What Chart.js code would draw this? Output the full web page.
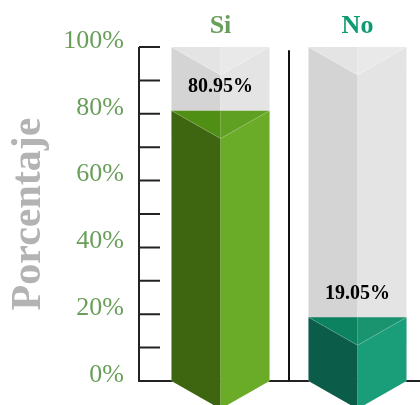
<!DOCTYPE html>
<html lang="es">
<head>
<meta charset="UTF-8">
<title>Porcentaje Si / No</title>
<script src="https://cdn.jsdelivr.net/npm/chart.js"></script>
<style>
  html, body { margin: 0; padding: 0; background: #ffffff; overflow: hidden; }
  /* a few px wider than the window: the right bar runs to the edge */
  #wrap { width: 426px; height: 405px; }
</style>
</head>
<body>
<div id="wrap"><canvas id="chart"></canvas></div>
<script>
  // Data
  const categories = ['Si', 'No'];
  const percentValues = [80.95, 19.05];
  const fullValues = [100, 100];
  const yTickLabels = ['0%', '20%', '40%', '60%', '80%', '100%'];

  const SERIF = "'Liberation Serif', 'Times New Roman', serif";
  const categoryColors = ['#6a9f5b', '#0e9a72'];
  const faceColors = [
    { left: '#3e6610', right: '#6aab27', topLeft: '#4f8f13', topRight: '#5fa022' },
    { left: '#0b5c48', right: '#1a9e7a', topLeft: '#0c8261', topRight: '#1a936f' }
  ];
  const greyFace = { left: '#d4d4d4', right: '#e4e4e4', topLeft: '#e4e4e4', topRight: '#e9e9e9' };
  const AXIS_GAP = 13;   // axis line sits a bit left of the plot area
  const TICK_LEN = 21;

  function poly(ctx, pts, color) {
    ctx.beginPath();
    ctx.moveTo(pts[0][0], pts[0][1]);
    for (let i = 1; i < pts.length; i++) ctx.lineTo(pts[i][0], pts[i][1]);
    ctx.closePath();
    ctx.fillStyle = color;
    ctx.fill();
  }

  // 3D prism: two side faces, a chevron top and a pointed bottom
  function drawPrism(ctx, el, c) {
    const half = el.width / 2, d = half * 0.57;
    const l = el.x - half, r = el.x + half, m = el.x, t = el.y, b = el.base;
    poly(ctx, [[l, t], [m, t + d], [m, b + d], [l, b]], c.left);
    poly(ctx, [[m, t + d], [r, t], [r, b], [m, b + d]], c.right);
    poly(ctx, [[l, t], [m, t], [m, t + d]], c.topLeft);
    poly(ctx, [[m, t], [r, t], [m, t + d]], c.topRight);
    ctx.strokeStyle = 'rgba(255,255,255,0.18)';
    ctx.lineWidth = 1;
    ctx.beginPath();
    ctx.moveTo(l, t); ctx.lineTo(m, t + d); ctx.lineTo(r, t);
    ctx.stroke();
  }

  const prismPlugin = {
    id: 'prism',
    beforeDatasetsDraw(chart) {
      const ctx = chart.ctx, ys = chart.scales.y;
      const axisX = ys.right - AXIS_GAP;
      const y0 = ys.getPixelForValue(0);
      ctx.save();
      ctx.strokeStyle = '#222222';
      ctx.lineWidth = 2;
      ctx.beginPath();
      ctx.moveTo(axisX, ys.top); ctx.lineTo(axisX, y0);
      ctx.moveTo(axisX - 1, y0); ctx.lineTo(chart.width, y0);
      ys.ticks.forEach((t, i) => {
        const py = ys.getPixelForTick(i);
        ctx.moveTo(axisX, py); ctx.lineTo(axisX + TICK_LEN, py);
      });
      ctx.stroke();
      ctx.restore();
    },
    afterDatasetsDraw(chart) {
      const ctx = chart.ctx, ys = chart.scales.y;
      const bars = chart.getDatasetMeta(0).data;
      const backs = chart.getDatasetMeta(1).data;
      ctx.save();
      backs.forEach(el => drawPrism(ctx, el, greyFace));
      bars.forEach((el, i) => drawPrism(ctx, el, faceColors[i]));

      // divider between the two categories
      const midX = (bars[0].x + bars[1].x) / 2;
      ctx.strokeStyle = '#111111';
      ctx.lineWidth = 2;
      ctx.beginPath();
      ctx.moveTo(midX, ys.getPixelForValue(99));
      ctx.lineTo(midX, ys.getPixelForValue(0));
      ctx.stroke();

      ctx.fillStyle = '#000000';
      ctx.font = 'bold 20px ' + SERIF;
      ctx.textAlign = 'center';
      ctx.textBaseline = 'middle';
      bars.forEach((el, i) => {
        ctx.fillText(percentValues[i].toFixed(2) + '%', el.x, el.y - 24);
      });
      ctx.restore();
    }
  };

  new Chart(document.getElementById('chart'), {
    type: 'bar',
    data: {
      labels: categories,
      datasets: [
        { label: 'Porcentaje', data: percentValues, backgroundColor: 'rgba(0,0,0,0)', grouped: false },
        { label: 'Total', data: fullValues, backgroundColor: 'rgba(0,0,0,0)', grouped: false }
      ]
    },
    options: {
      responsive: true,
      maintainAspectRatio: false,
      animation: false,
      layout: { padding: { top: 0, right: 0, bottom: 24, left: 0 } },
      datasets: { bar: { categoryPercentage: 1, barPercentage: 0.715 } },
      plugins: { legend: { display: false }, tooltip: { enabled: false } },
      scales: {
        x: {
          position: 'top',
          grid: { display: false, drawTicks: false },
          border: { display: false },
          ticks: {
            color: c => categoryColors[c.index],
            font: { family: SERIF, size: 26, weight: 'bold' },
            padding: 5
          },
          afterFit: s => { s.height = 47; }
        },
        y: {
          min: 0,
          max: 100,
          // hidden grid; tick length only pushes the labels away from the axis
          grid: { display: false, drawTicks: true, tickLength: 28 },
          border: { display: false },
          ticks: {
            stepSize: 10,
            autoSkip: false,
            padding: 0,
            labelOffset: -6,
            color: '#6a9f5b',
            font: { family: SERIF, size: 26 },
            callback: v => (v % 20 === 0 ? yTickLabels[v / 20] : '')
          },
          title: {
            display: true,
            text: 'Porcentaje',
            color: '#b3b3b3',
            font: { family: SERIF, size: 42, weight: 'bold' },
            padding: { top: 4, bottom: 0 }
          },
          afterFit: s => { s.width = 152; }
        }
      }
    },
    plugins: [prismPlugin]
  });
</script>
</body>
</html>
